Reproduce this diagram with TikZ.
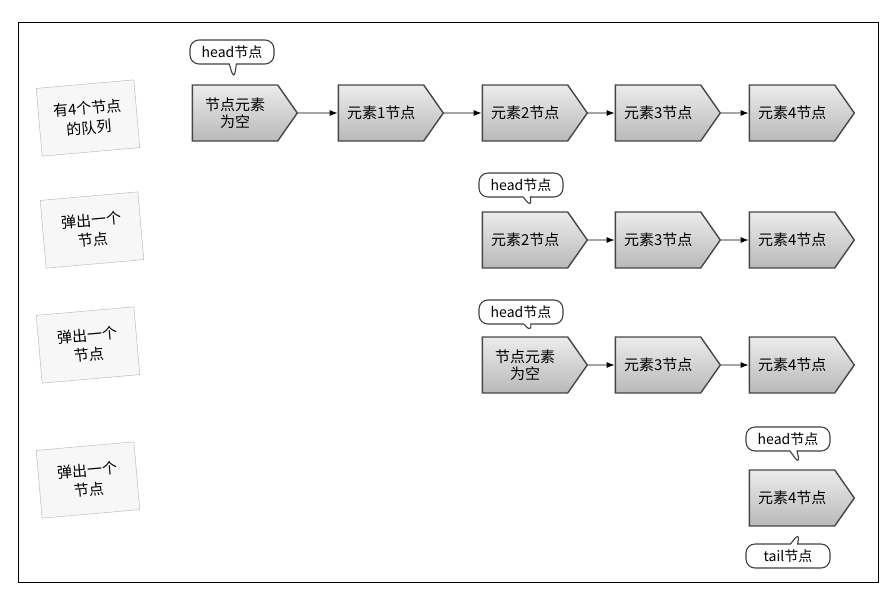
\documentclass[tikz,border=0pt]{standalone}
\usepackage{fontspec}
\setmainfont{Noto Sans CJK SC}
\usetikzlibrary{shapes.symbols,shapes.callouts,arrows.meta}
\begin{document}
\begin{tikzpicture}[x=1pt,y=-1pt,
  qnode/.style={signal,signal to=east,signal pointer angle=110,draw=gray!55!black,line width=1.4pt,
     top color=gray!15,bottom color=gray!55,minimum width=105pt,minimum height=56pt,inner sep=2pt,
     font=\fontsize{15}{17}\selectfont,align=center,text width=68pt},
  tag/.style={rectangle callout,rounded corners=9pt,draw=gray!50!black,line width=1.1pt,fill=white,
     minimum width=84pt,minimum height=24pt,inner sep=1pt,font=\fontsize{14}{15}\selectfont},
  lab/.style={draw=gray!60,fill=gray!6,minimum width=98pt,minimum height=68pt,rotate=5,
     align=center,font=\fontsize{15}{20}\selectfont},
  link/.style={-{Latex[length=8pt,width=6pt]},line width=0.9pt}]
\useasboundingbox (0,0) rectangle (896,590);
\draw[line width=1pt] (18,22) rectangle (878,582);
% labels
\node[lab] (l1) at (88,118) {有4个节点\\的队列};
\node[lab] (l2) at (92,230) {弹出一个\\节点};
\node[lab] (l3) at (88,345) {弹出一个\\节点};
\node[lab] (l4) at (88,480) {弹出一个\\节点};
% row 1
\node[qnode] (a1) at (235,113) {节点元素\\为空};
\node[qnode] (a2) at (381,113) {元素1节点};
\node[qnode] (a3) at (525,113) {元素2节点};
\node[qnode] (a4) at (658,113) {元素3节点};
\node[qnode] (a5) at (792,113) {元素4节点};
\foreach \i/\j in {a1/a2,a2/a3,a3/a4,a4/a5} \draw[link] (\i) -- (\j);
\node[tag,callout absolute pointer={(234,80)}] (h1) at (232,52) {head节点};
% row 2
\node[qnode] (b3) at (525,240) {元素2节点};
\node[qnode] (b4) at (658,240) {元素3节点};
\node[qnode] (b5) at (792,240) {元素4节点};
\foreach \i/\j in {b3/b4,b4/b5} \draw[link] (\i) -- (\j);
\node[tag,callout absolute pointer={(532,208)}] (h2) at (521,185) {head节点};
% row 3
\node[qnode] (c3) at (525,365) {节点元素\\为空};
\node[qnode] (c4) at (658,365) {元素3节点};
\node[qnode] (c5) at (792,365) {元素4节点};
\foreach \i/\j in {c3/c4,c4/c5} \draw[link] (\i) -- (\j);
\node[tag,callout absolute pointer={(532,333)}] (h3) at (521,312) {head节点};
% row 4
\node[qnode] (d5) at (792,498) {元素4节点};
\node[tag,callout absolute pointer={(800,465)}] (h4) at (788,439) {head节点};
\node[tag,callout absolute pointer={(800,532)}] (t4) at (788,556) {tail节点};
\end{tikzpicture}
\end{document}
